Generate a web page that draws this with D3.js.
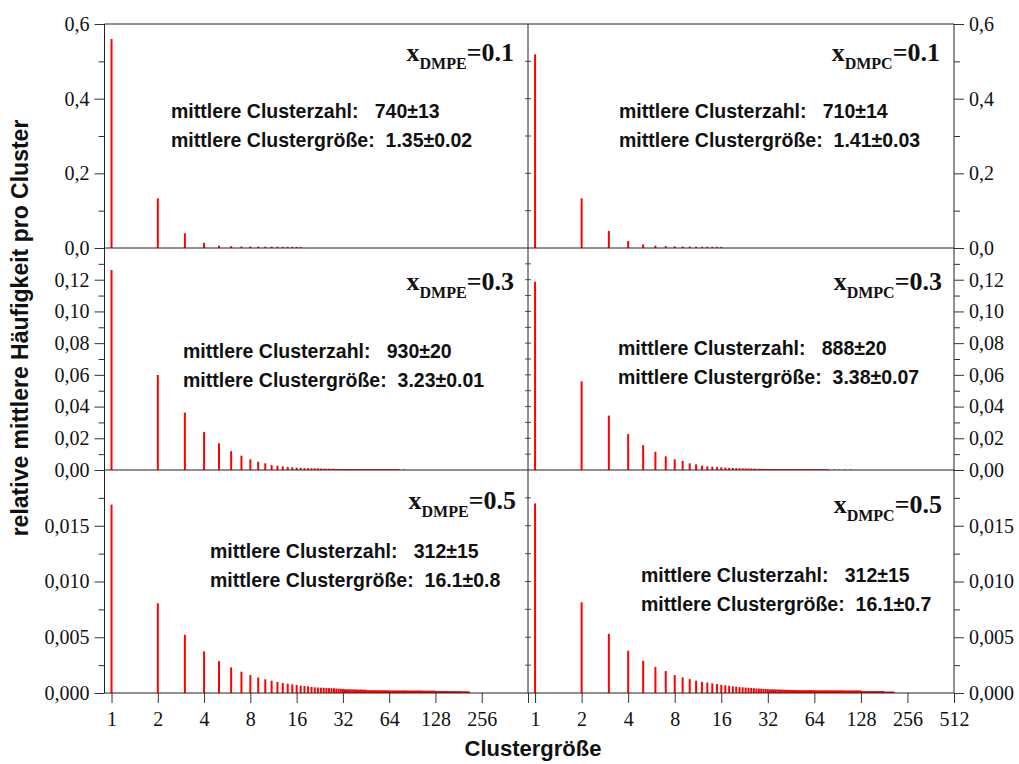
<!DOCTYPE html>
<html>
<head>
<meta charset="utf-8">
<script src="https://cdn.jsdelivr.net/npm/d3@7"></script>
<style>
  body { margin: 0; background: #fff; }
  svg { display: block; }
</style>
</head>
<body>
<svg width="1019" height="764"></svg>
<script>
// --- data -----------------------------------------------------------------
const sizeTicks = [1, 2, 4, 8, 16, 32, 64, 128, 256, 512];
const lipids = ["DMPE", "DMPC"];
const fractions = ["0.1", "0.3", "0.5"];
const clusterCounts = [["740±13", "710±14"], ["930±20", "888±20"], ["312±15", "312±15"]];
const clusterSizes = [["1.35±0.02", "1.41±0.03"], ["3.23±0.01", "3.38±0.07"], ["16.1±0.8", "16.1±0.7"]];

const yMax = [0.6, 0.14, 0.02];
const yMajor = [
  [0, 0.2, 0.4, 0.6],
  [0, 0.02, 0.04, 0.06, 0.08, 0.10, 0.12],
  [0, 0.005, 0.010, 0.015]
];
const yMinor = [
  [0.1, 0.3, 0.5],
  [0.01, 0.03, 0.05, 0.07, 0.09, 0.11, 0.13],
  [0.0025, 0.0075, 0.0125, 0.0175]
];

// relative frequency per cluster size (index 0 = size 1)
const dmpe01 = [0.5598, 0.133, 0.0393, 0.0143, 0.0063, 0.005, 0.0042, 0.004, 0.0038, 0.0036,
  0.0035, 0.0034, 0.0033, 0.0032, 0.0031, 0.003, 0.003];
const dmpc01 = [0.5188, 0.133, 0.0455, 0.0188, 0.0098, 0.0063, 0.005, 0.0045, 0.004, 0.0038,
  0.0036, 0.0034, 0.0033, 0.0032, 0.0031, 0.003];

const dmpe03 = [0.1261, 0.0599, 0.0362, 0.0239, 0.0168, 0.0119, 0.009, 0.0067, 0.0052, 0.0042,
  0.0031, 0.0027, 0.0023, 0.0019, 0.0017, 0.0015, 0.0013, 0.0012, 0.00115, 0.0011,
  0.00105, 0.001, 0.00095, 0.0009, 0.00086, 0.00082, 0.00078, 0.00074, 0.0007, 0.00067,
  0.00065, 0.00063, 0.00061, 0.0006, 0.00059, 0.00058, 0.00057, 0.00056, 0.00055, 0.00054,
  0.00053, 0.00052, 0.00051, 0.0005, 0.0005, 0.00049, 0.00048, 0.00048, 0.00047, 0.00047,
  0.00046, 0.00046, 0.00045, 0.00045, 0.00044, 0.00044, 0.00043, 0.00043, 0.00042, 0.00042,
  0.00042, 0.00041, 0.00041, 0.0004, 0.0004, 0.0004, 0.00039, 0.00039, 0.00038, 0.00038,
  0.00037, 0.00037, 0.00036, 0.00036, 0, 0, 0, 0, 0, 0.00035];
const dmpc03 = [0.1187, 0.0559, 0.0343, 0.0226, 0.0157, 0.0115, 0.0086, 0.0067, 0.0057, 0.0042,
  0.0036, 0.0027, 0.0023, 0.0021, 0.0019, 0.0017, 0.0015, 0.0014, 0.0013, 0.0012,
  0.0011, 0.00105, 0.001, 0.00095, 0.0009, 0.00086, 0.00082, 0.00078, 0.00074, 0.0007,
  0.00067, 0.00065, 0.00063, 0.00061, 0.0006, 0.00059, 0.00058, 0.00057, 0.00056, 0.00055,
  0.00054, 0.00053, 0.00052, 0.00051, 0.0005, 0.00049, 0.00048, 0.00048, 0.00047, 0.00047,
  0.00046, 0.00046, 0.00045, 0.00045, 0.00044, 0.00044, 0.00043, 0.00043, 0.00042, 0.00042,
  0.00041, 0.00041, 0.0004, 0.0004, 0.00039, 0.00039, 0.00038, 0.00038, 0.00037, 0.00037,
  0.00036, 0.00036, 0.00035, 0.00035, 0.00034, 0.00034, 0.00033, 0.00033, 0.00032, 0,
  0, 0, 0, 0, 0, 0.0003, 0, 0, 0, 0,
  0, 0.0003, 0, 0, 0, 0, 0, 0, 0, 0,
  0.00028, 0, 0, 0, 0, 0, 0, 0, 0, 0.00028];

const dmpe05 = [0.0169, 0.00805, 0.00522, 0.00373, 0.00286, 0.0023, 0.00191, 0.00161, 0.00139, 0.00123,
  0.0011, 0.00099, 0.00089, 0.00083, 0.00078, 0.00072, 0.00066, 0.00063, 0.0006, 0.00054,
  0.00051, 0.00049, 0.00048, 0.00047, 0.00045, 0.00044, 0.00043, 0.00042, 0.0004, 0.00039,
  0.00038, 0.00037, 0.00034, 0.00033, 0.00033, 0.00033, 0.00032, 0.00032, 0.00031, 0.00031,
  0.0003, 0.0003, 0.0003, 0.00029, 0.00029, 0.00025, 0.00025, 0.00024, 0.00024, 0.00024,
  0.00024, 0.00024, 0.00024, 0.00024, 0.00023, 0.00023, 0.00023, 0.00023, 0.00023, 0.00023,
  0.00023, 0.00022, 0.00022, 0.00022, 0.00021, 0.00021, 0.00021, 0.00021, 0.00021, 0.00021,
  0.00021, 0.00021, 0.00021, 0.00021, 0.00021, 0.00021, 0.00021, 0.00021, 0.00021, 0.00021,
  0.00021, 0.00021, 0.00021, 0.0002, 0.0002, 0.0002, 0.0002, 0.0002, 0.0002, 0.0002,
  0.0002, 0.0002, 0.0002, 0.0002, 0.0002, 0.0002, 0.0002, 0.0002, 0.0002, 0.0002,
  0.0002, 0.0002, 0.0002, 0.0002, 0.0002, 0.00019, 0.00019, 0.00019, 0.00019, 0.00019,
  0.00019, 0.00019, 0.00019, 0.00019, 0.00019, 0.00019, 0.00019, 0.00019, 0.00019, 0.00019,
  0.00019, 0.00019, 0.00019, 0.00019, 0.00019, 0.00019, 0.00019, 0.00019, 0.00015, 0.00015,
  0.00015, 0.00015, 0.00015, 0.00015, 0.00015, 0.00015, 0.00015, 0.00015, 0.00015, 0.00015,
  0.00015, 0.00015, 0.00015, 0.00015, 0.00015, 0.00015, 0.00015, 0.00015, 0.00015, 0.00015,
  0.00013, 0.00013, 0.00013, 0.00013, 0.00013, 0.00013, 0.00013, 0.00013, 0.00013, 0.00013,
  0.00012, 0.00012, 0.00012, 0.00012, 0.00012, 0.00012, 0.00012, 0.00012, 0.00012, 0.00012,
  0.00012, 0.00012, 0.00012, 0.00012, 0.00012, 0.00012, 0.00012, 0.00012, 0.00012, 0.00012,
  0.00012, 0.00012, 0.00012, 0.00012, 0.00012, 0.00012, 0.00012, 0.00012, 0.00012, 0.00012,
  0.00011, 0.00011, 0.00011, 0.00011, 0.00011, 0.00011, 0.00011, 0.00011, 0.00011, 0.00011,
  0.00011, 0.00011, 0.00011, 0.00011, 0.00011, 0.00011, 0.00011, 0.00011, 0.00011, 0.00011,
  0.0001, 0.0001];
const dmpc05 = [0.017, 0.00814, 0.00531, 0.00379, 0.00289, 0.00233, 0.00197, 0.00161, 0.0014, 0.00125,
  0.0011, 0.001, 0.00094, 0.00086, 0.0008, 0.00074, 0.00069, 0.00065, 0.0006, 0.00057,
  0.00053, 0.00051, 0.00049, 0.00047, 0.00045, 0.00043, 0.00041, 0.0004, 0.00038, 0.00037,
  0.00036, 0.00035, 0.00033, 0.00033, 0.00032, 0.00032, 0.00031, 0.00031, 0.0003, 0.0003,
  0.00029, 0.00029, 0.00028, 0.00028, 0.00028, 0.00027, 0.00026, 0.00026, 0.00025, 0.00025,
  0.00025, 0.00025, 0.00025, 0.00025, 0.00024, 0.00024, 0.00024, 0.00024, 0.00024, 0.00024,
  0.00024, 0.00024, 0.00024, 0.00024, 0.00022, 0.00022, 0.00022, 0.00022, 0.00022, 0.00022,
  0.00022, 0.00022, 0.00022, 0.00022, 0.00022, 0.00022, 0.00022, 0.00022, 0.00022, 0.00022,
  0.00021, 0.00021, 0.00021, 0.00021, 0.00021, 0.00021, 0.00021, 0.00021, 0.00021, 0.00021,
  0.00021, 0.00021, 0.00021, 0.00021, 0.00021, 0.00021, 0.00021, 0.00021, 0.00021, 0.00021,
  0.0002, 0.0002, 0.0002, 0.0002, 0.0002, 0.0002, 0.0002, 0.0002, 0.0002, 0.0002,
  0.0002, 0.0002, 0.0002, 0.0002, 0.0002, 0.0002, 0.0002, 0.0002, 0.0002, 0.0002,
  0.0002, 0.0002, 0.0002, 0.0002, 0.0002, 0.0002, 0.0002, 0.0002, 0.00013, 0.00013,
  0.00013, 0.00013, 0.00013, 0.00013, 0.00013, 0.00013, 0.00013, 0.00013, 0.00013, 0.00013,
  0.00013, 0.00013, 0.00013, 0.00013, 0.00013, 0.00013, 0.00013, 0.00013, 0.00013, 0.00013,
  0.00013, 0.00013, 0.00013, 0.00013, 0.00013, 0.00013, 0.00013, 0.00013, 0.00013, 0.00013,
  0.00013, 0.00013, 0.00013, 0.00013, 0.00013, 0.00013, 0.00013, 0.00013, 0.00013, 0.00013,
  0.00013, 0.00013, 0.00013, 0.00013, 0.00013, 0.00013, 0.00013, 0.00013, 0.00013, 0.00013,
  0.0001, 0.0001, 0.0001, 0.0001, 0.0001, 0.0001, 0.0001, 0.0001, 0.0001, 0.0001,
  0.0001, 0.0001, 0.0001, 0.0001, 0.0001, 0.0001, 0.0001, 0.0001, 0.0001, 0.0001,
  0.0001, 0.0001, 0.0001, 0.0001, 0.0001, 0.0001, 0.0001, 0.0001, 0.0001];

const series = [[dmpe01, dmpc01], [dmpe03, dmpc03], [dmpe05, dmpc05]];

// --- layout ---------------------------------------------------------------
const svg = d3.select("svg");
const cols = [{ x0: 104.5, x1: 528 }, { x0: 528, x1: 954 }];
const rows = [{ y0: 24, y1: 248 }, { y0: 248, y1: 470 }, { y0: 470, y1: 693 }];
const titleAt = [[[514, 61], [940, 61]], [[514, 290], [942, 290]], [[516, 509], [942, 513]]];
const noteAt = [[[171, 118], [619, 118]], [[183, 358], [618, 355]], [[210, 558], [641, 582]]];
const decimals = [1, 2, 3];

const serif = "'Liberation Serif', 'Times New Roman', serif";
const sans = "'Liberation Sans', Arial, sans-serif";
const de = d3.formatLocale({ decimal: ",", thousands: ".", grouping: [3], currency: ["", " €"] });

rows.forEach((row, r) => {
  const y = d3.scaleLinear().domain([0, yMax[r]]).range([row.y1, row.y0]);

  cols.forEach((col, c) => {
    const x = d3.scaleLog().base(2).domain([0.9, 512]).range([col.x0, col.x1]);
    const g = svg.append("g");

    const bars = series[r][c].map((v, i) => ({ size: i + 1, v })).filter(d => d.v > 0);
    g.append("g")
      .selectAll("line")
      .data(bars)
      .join("line")
      .attr("x1", d => x(d.size))
      .attr("x2", d => x(d.size))
      .attr("y1", y(0))
      .attr("y2", d => y(d.v))
      .attr("stroke", "#ff0000")
      .attr("stroke-width", 2);

    // outer y axis (left column left, right column right)
    const fmt = de.format(`.${decimals[r]}f`);
    const outer = c === 0 ? d3.axisLeft(y) : d3.axisRight(y);
    const ax = g.append("g")
      .attr("transform", `translate(${c === 0 ? col.x0 : col.x1},0)`)
      .call(outer.tickValues(yMajor[r]).tickSize(10).tickSizeOuter(0).tickPadding(5).tickFormat(fmt));
    ax.select(".domain").remove();
    ax.selectAll("line").attr("stroke", "#333");
    ax.selectAll("text").attr("font-family", serif).attr("font-size", 20).attr("fill", "#111");

    const minor = c === 0 ? d3.axisLeft(y) : d3.axisRight(y);
    const mx = g.append("g")
      .attr("transform", `translate(${c === 0 ? col.x0 : col.x1},0)`)
      .call(minor.tickValues(yMinor[r].filter(v => v < yMax[r])).tickSize(6).tickSizeOuter(0).tickFormat(""));
    mx.select(".domain").remove();
    mx.selectAll("line").attr("stroke", "#333");

    // bottom x axis only under the last row
    if (r === rows.length - 1) {
      const xa = g.append("g")
        .attr("transform", `translate(0,${row.y1})`)
        .call(d3.axisBottom(x).tickValues(sizeTicks).tickSize(10).tickSizeOuter(0).tickPadding(9)
          .tickFormat(d => (c === 0 && d === 512) ? "" : d3.format("d")(d)));
      xa.select(".domain").remove();
      xa.selectAll("line").attr("stroke", "#333");
      xa.selectAll("text").attr("font-family", serif).attr("font-size", 20).attr("fill", "#111");
    }

    // panel title x_LIPID=value
    const t = g.append("text")
      .attr("x", titleAt[r][c][0])
      .attr("y", titleAt[r][c][1])
      .attr("text-anchor", "end")
      .attr("font-family", serif)
      .attr("font-weight", "bold")
      .attr("font-size", 26)
      .attr("fill", "#111");
    t.append("tspan").text("x");
    t.append("tspan").attr("font-size", 16).attr("dy", 8).text(lipids[c]);
    t.append("tspan").attr("dy", -8).text("=" + fractions[r]);

    // cluster statistics
    const lines = [
      "mittlere Clusterzahl:   " + clusterCounts[r][c],
      "mittlere Clustergröße:  " + clusterSizes[r][c]
    ];
    g.selectAll("text.note")
      .data(lines)
      .join("text")
      .attr("class", "note")
      .attr("x", noteAt[r][c][0])
      .attr("y", (d, i) => noteAt[r][c][1] + i * 29)
      .attr("font-family", sans)
      .attr("font-weight", "bold")
      .attr("font-size", 19.5)
      .attr("fill", "#111")
      .style("white-space", "pre")
      .text(d => d);
  });

  // mirror ticks on the shared middle border
  const mid = cols[0].x1;
  svg.append("g")
    .selectAll("line")
    .data(yMajor[r].concat(yMinor[r]).filter(v => v > 0 && v < yMax[r]))
    .join("line")
    .attr("x1", mid - 3)
    .attr("x2", mid + 3)
    .attr("y1", d => y(d))
    .attr("y2", d => y(d))
    .attr("stroke", "#555");
});

// frame lines
const frame = svg.append("g").attr("stroke", "#222").attr("stroke-width", 1).attr("fill", "none");
rows.forEach(row => {
  frame.append("line").attr("x1", cols[0].x0).attr("x2", cols[1].x1).attr("y1", row.y0).attr("y2", row.y0);
});
frame.append("line").attr("x1", cols[0].x0).attr("x2", cols[1].x1)
  .attr("y1", rows[rows.length - 1].y1).attr("y2", rows[rows.length - 1].y1);
[cols[0].x0, cols[0].x1, cols[1].x1].forEach(xv => {
  frame.append("line").attr("x1", xv).attr("x2", xv).attr("y1", rows[0].y0).attr("y2", rows[rows.length - 1].y1);
});

// axis titles
svg.append("text")
  .attr("transform", "translate(28,328) rotate(-90)")
  .attr("text-anchor", "middle")
  .attr("font-family", sans)
  .attr("font-weight", "bold")
  .attr("font-size", 23)
  .attr("fill", "#111")
  .text("relative mittlere Häufigkeit pro Cluster");

svg.append("text")
  .attr("x", 533)
  .attr("y", 756)
  .attr("text-anchor", "middle")
  .attr("font-family", sans)
  .attr("font-weight", "bold")
  .attr("font-size", 22)
  .attr("fill", "#111")
  .text("Clustergröße");
</script>
</body>
</html>
